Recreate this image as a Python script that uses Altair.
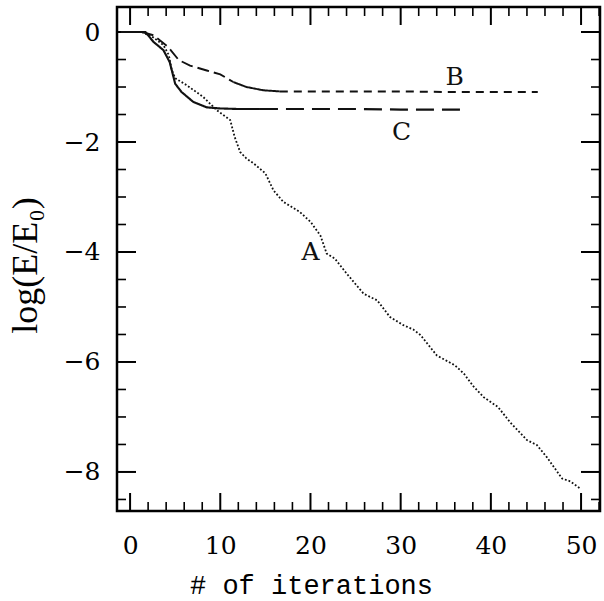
import altair as alt
import pandas as pd

# ---- data ----
A_x = [1.3, 2.6, 3.7, 4.3, 4.6, 5.0, 6.3, 8.1, 9.6, 11.1, 11.6, 12.2, 12.9, 13.7, 15.0, 15.9,
       17.0, 18.8, 20.0, 21.1, 21.8, 22.7, 24.0, 25.9, 27.4, 28.8, 30.3, 31.4, 32.2, 34.0,
       36.0, 37.0, 38.1, 39.2, 40.8, 42.1, 44.0, 45.1, 46.2, 47.9, 48.8, 49.9]
A_y = [0.0, -0.10, -0.24, -0.42, -0.68, -0.84, -0.97, -1.18, -1.42, -1.60, -1.91, -2.18,
       -2.30, -2.39, -2.57, -2.88, -3.09, -3.27, -3.45, -3.70, -4.03, -4.12, -4.39, -4.76,
       -4.88, -5.18, -5.33, -5.41, -5.51, -5.88, -6.06, -6.21, -6.45, -6.64, -6.82, -7.09,
       -7.42, -7.51, -7.73, -8.12, -8.17, -8.30]

B_x = [1.3, 2.6, 4.2, 5.4, 6.65, 8.5, 10.0, 11.45, 12.9, 14.8, 16.6, 20, 25, 30, 35, 40, 45.2]
B_y = [0.0, -0.06, -0.27, -0.51, -0.61, -0.70, -0.77, -0.91, -1.00, -1.06, -1.08, -1.08,
       -1.08, -1.08, -1.09, -1.09, -1.09]
B_breaks = [11.45, 16.6]

C_x = [-1.0, 1.7, 2.6, 3.7, 4.4, 5.0, 5.7, 7.0, 8.5, 10.0, 12.0, 14.4, 20, 25, 30, 37.1]
C_y = [0.0, 0.0, -0.18, -0.33, -0.55, -0.94, -1.09, -1.27, -1.37, -1.39, -1.40, -1.40,
       -1.40, -1.40, -1.41, -1.41]
C_breaks = [14.4]

label_text = ["A", "B", "C"]
label_x = [20.0, 36.0, 30.1]
label_y = [-4.0, -0.82, -1.82]

x_major = [0, 10, 20, 30, 40, 50]
x_minor = [2, 4, 6, 8, 12, 14, 16, 18, 22, 24, 26, 28, 32, 34, 36, 38, 42, 44, 46, 48, 52]
y_major = [0, -2, -4, -6, -8]
y_minor = [-0.5, -1, -1.5, -2.5, -3, -3.5, -4.5, -5, -5.5, -6.5, -7, -7.5, -8.5]

X_DOMAIN = [-1.45, 52.1]
Y_DOMAIN = [-8.71, 0.455]

# ---- build line segments ----
def split(name, xs, ys, breaks):
    rows = []
    cuts = [xs[0]] + breaks + [xs[-1]]
    for k in range(len(cuts) - 1):
        for i, (xv, yv) in enumerate(zip(xs, ys)):
            if cuts[k] <= xv <= cuts[k + 1]:
                rows.append({"seg": f"{name}{k+1}", "x": xv, "y": yv, "i": i})
    return rows

rows = split("A", A_x, A_y, []) + split("B", B_x, B_y, B_breaks) + split("C", C_x, C_y, C_breaks)
lines_df = pd.DataFrame(rows)

seg_domain = ["A1", "B1", "B2", "B3", "C1", "C2"]
seg_dash = [[1.8, 2.0], [12, 5], [1, 0], [8, 6], [1, 0], [18, 8]]
seg_width = [1.8, 2.2, 2.2, 2.2, 2.2, 2.2]

W, H = 483, 504
FONT = "DejaVu Serif"

x_axis = alt.Axis(values=x_major, ticks=False, domain=False, grid=False,
                  labelFont=FONT, labelFontSize=25, labelColor="black", labelPadding=22,
                  title="# of iterations", titleFont="Liberation Mono", titleFontSize=27,
                  titleFontWeight="normal", titleColor="black",
                  titleX=194, titleY=82, titleBaseline="alphabetic", titleAlign="center")
y_axis = alt.Axis(values=y_major, ticks=False, domain=False, grid=False,
                  labelFont=FONT, labelFontSize=25, labelColor="black", labelPadding=17,
                  title="log(E/E₀)", titleFont="Liberation Serif", titleFontSize=36,
                  titleFontWeight="normal", titleColor="black",
                  titleX=-92, titleY=258, titleBaseline="middle", titleAlign="center",
                  titleAngle=270)

xs = alt.Scale(domain=X_DOMAIN, nice=False, zero=False)
ys = alt.Scale(domain=Y_DOMAIN, nice=False, zero=False)

lines = alt.Chart(lines_df).mark_line(color="#111111").encode(
    x=alt.X("x:Q", scale=xs, axis=x_axis),
    y=alt.Y("y:Q", scale=ys, axis=y_axis),
    strokeDash=alt.StrokeDash("seg:N", scale=alt.Scale(domain=seg_domain, range=seg_dash), legend=None),
    strokeWidth=alt.StrokeWidth("seg:N", scale=alt.Scale(domain=seg_domain, range=seg_width), legend=None),
    order="i:Q",
)

labels_df = pd.DataFrame({"t": label_text, "x": label_x, "y": label_y})
labels = alt.Chart(labels_df).mark_text(font=FONT, fontSize=25, color="#111111").encode(
    x=alt.X("x:Q", scale=xs, axis=x_axis),
    y=alt.Y("y:Q", scale=ys, axis=y_axis),
    text="t:N",
)

def xticks(vals, length, width):
    df = pd.DataFrame({"v": vals})
    top = alt.Chart(df).mark_rule(color="black", strokeWidth=width).encode(
        x=alt.X("v:Q", scale=xs, axis=x_axis), y=alt.value(0), y2=alt.value(length))
    bot = alt.Chart(df).mark_rule(color="black", strokeWidth=width).encode(
        x=alt.X("v:Q", scale=xs, axis=x_axis), y=alt.value(H), y2=alt.value(H - length))
    return [top, bot]

def yticks(vals, length, width):
    df = pd.DataFrame({"v": vals})
    left = alt.Chart(df).mark_rule(color="black", strokeWidth=width).encode(
        y=alt.Y("v:Q", scale=ys, axis=y_axis), x=alt.value(0), x2=alt.value(length))
    right = alt.Chart(df).mark_rule(color="black", strokeWidth=width).encode(
        y=alt.Y("v:Q", scale=ys, axis=y_axis), x=alt.value(W), x2=alt.value(W - length))
    return [left, right]

tick_layers = xticks(x_major, 18, 2) + xticks(x_minor, 9, 1.6) + yticks(y_major, 19, 2) + yticks(y_minor, 9, 1.6)

chart = alt.layer(*tick_layers, lines, labels).properties(
    width=W, height=H,
    padding={"left": 117, "top": 7, "right": 4, "bottom": 90},
    autosize=alt.AutoSizeParams(type="none"),
    background="white",
).configure_view(stroke="black", strokeWidth=2.5)

chart.save("out.html", embed_options={"renderer": "svg", "actions": False})
